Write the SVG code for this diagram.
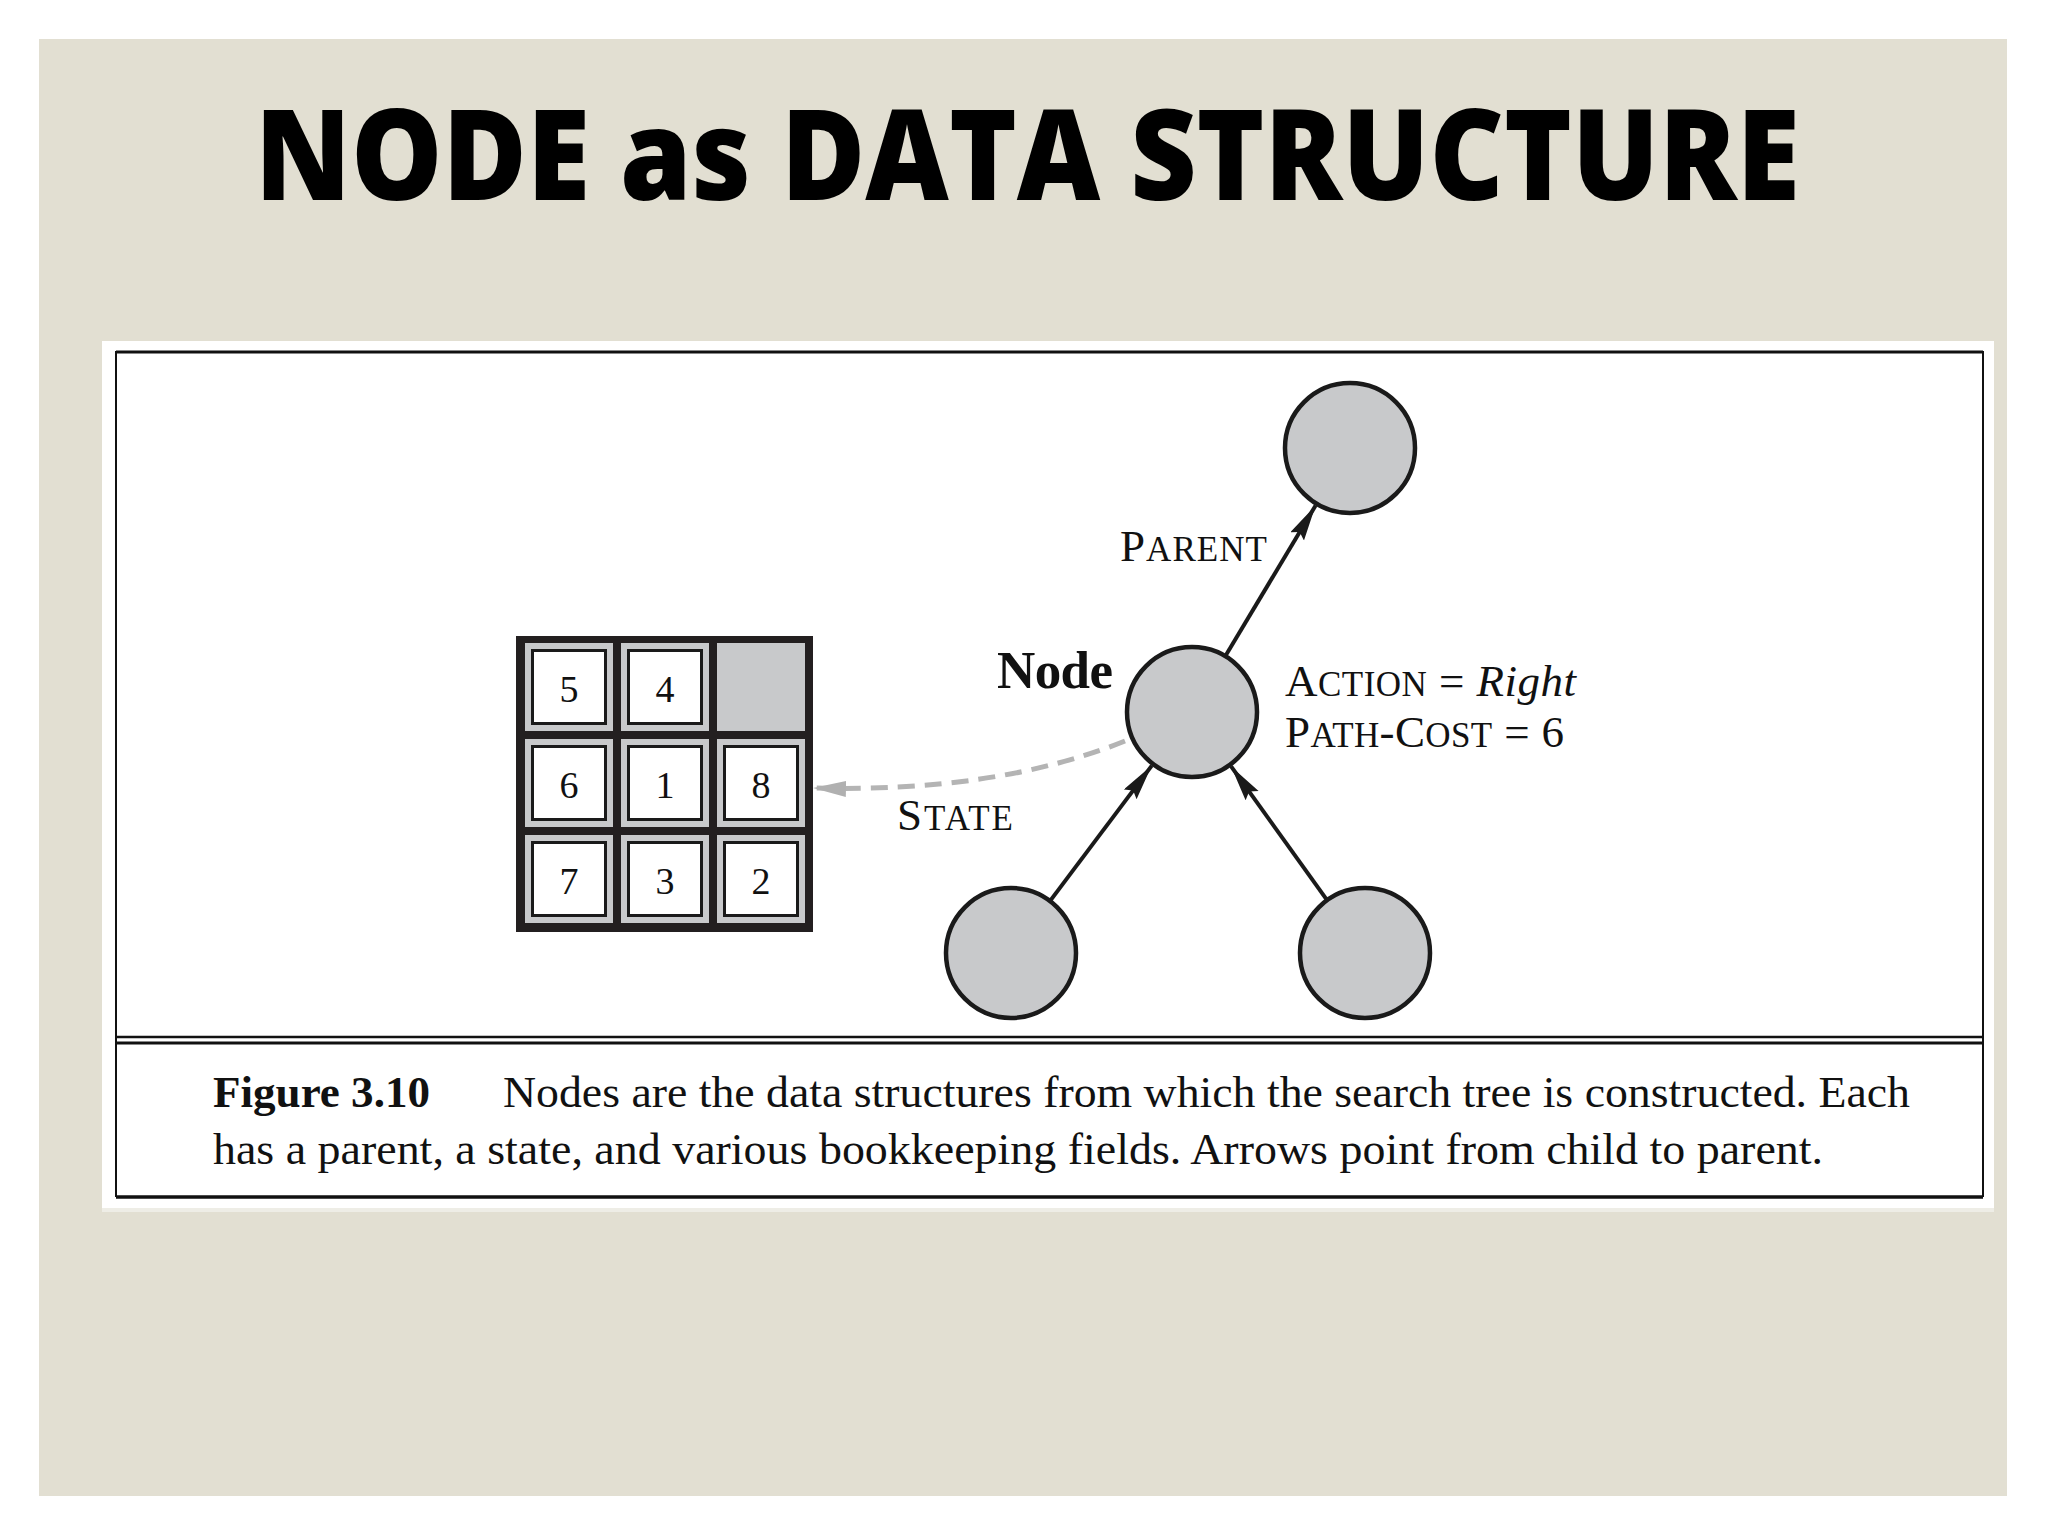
<svg xmlns="http://www.w3.org/2000/svg" width="2048" height="1536" viewBox="0 0 2048 1536">
  <style>
    .serif { font-family: "Liberation Serif", "Times New Roman", serif; fill: #111; }
    .cap { font-size: 45px; }
    .sc { font-size: 35px; }
    .digit { font-family: "Liberation Serif", "Times New Roman", serif; font-size: 38px; fill: #111; text-anchor: middle; }
    .node { fill: #c8c9cb; stroke: #1a1a1a; stroke-width: 4.5; }
    .cell { fill: #c8c9cb; }
    .tile { fill: #ffffff; stroke: #1a1a1a; stroke-width: 3; }
    .edge { fill: none; stroke: #1a1a1a; stroke-width: 4; }
    .dash { fill: none; stroke: #b4b4b4; stroke-width: 5; stroke-dasharray: 17 10; }
  </style>
  <defs>
    <marker id="arrowBlack" markerUnits="userSpaceOnUse" markerWidth="38" markerHeight="18" refX="36" refY="8" orient="auto">
      <path d="M0,0 L36,8 L0,16 L5,8 z" fill="#1a1a1a"/>
    </marker>
    <marker id="arrowGray" markerUnits="userSpaceOnUse" markerWidth="34" markerHeight="16" refX="33" refY="8" orient="auto">
      <path d="M0,0 L33,8 L0,16 z" fill="#b0b0b0"/>
    </marker>
  </defs>

  <!-- page -->
  <rect x="0" y="0" width="2048" height="1536" fill="#ffffff"/>
  <rect x="39" y="39" width="1968" height="1457" fill="#e2dfd2"/>
  <text x="255" y="200" font-family="'Open Sans', 'Noto Sans', sans-serif" font-weight="800" font-size="126" fill="#000" textLength="1545" lengthAdjust="spacingAndGlyphs">NODE as DATA STRUCTURE</text>

  <!-- figure panel -->
  <rect x="102" y="341" width="1892" height="871" fill="#ffffff"/>
  <rect x="102" y="1208" width="1892" height="4" fill="#eeede6"/>
  <g id="frame" fill="none" stroke="#111">
    <line x1="116" y1="352" x2="1983" y2="352" stroke-width="3"/>
    <line x1="116" y1="351" x2="116" y2="1197" stroke-width="2"/>
    <line x1="1983" y1="351" x2="1983" y2="1197" stroke-width="2"/>
    <line x1="116" y1="1037" x2="1983" y2="1037" stroke-width="2.5"/>
    <line x1="116" y1="1043" x2="1983" y2="1043" stroke-width="3"/>
    <line x1="116" y1="1197" x2="1983" y2="1197" stroke-width="3.5"/>
  </g>

  <!-- 8-puzzle state -->
  <g id="state-puzzle">
    <rect x="516" y="636" width="297" height="296" fill="#231f20"/>
    <rect class="cell" x="525" y="643" width="88" height="88"/>
    <rect class="cell" x="621" y="643" width="88" height="88"/>
    <rect class="cell" x="717" y="643" width="88" height="88"/>
    <rect class="cell" x="525" y="739" width="88" height="88"/>
    <rect class="cell" x="621" y="739" width="88" height="88"/>
    <rect class="cell" x="717" y="739" width="88" height="88"/>
    <rect class="cell" x="525" y="835" width="88" height="88"/>
    <rect class="cell" x="621" y="835" width="88" height="88"/>
    <rect class="cell" x="717" y="835" width="88" height="88"/>
    <rect class="tile" x="532.5" y="650.5" width="73" height="73"/>
    <rect class="tile" x="628.5" y="650.5" width="73" height="73"/>
    <rect class="tile" x="532.5" y="746.5" width="73" height="73"/>
    <rect class="tile" x="628.5" y="746.5" width="73" height="73"/>
    <rect class="tile" x="724.5" y="746.5" width="73" height="73"/>
    <rect class="tile" x="532.5" y="842.5" width="73" height="73"/>
    <rect class="tile" x="628.5" y="842.5" width="73" height="73"/>
    <rect class="tile" x="724.5" y="842.5" width="73" height="73"/>
    <text class="digit" x="569" y="702">5</text>
    <text class="digit" x="665" y="702">4</text>
    <text class="digit" x="569" y="798">6</text>
    <text class="digit" x="665" y="798">1</text>
    <text class="digit" x="761" y="798">8</text>
    <text class="digit" x="569" y="894">7</text>
    <text class="digit" x="665" y="894">3</text>
    <text class="digit" x="761" y="894">2</text>
  </g>

  <!-- connectors -->
  <g id="connectors">
    <path class="dash" d="M1125,741 Q995,793 813,788" marker-end="url(#arrowGray)"/>
    <line class="edge" x1="1226" y1="655" x2="1315.6" y2="505.5" marker-end="url(#arrowBlack)"/>
    <line class="edge" x1="1048.8" y1="902.6" x2="1151.8" y2="765.6" marker-end="url(#arrowBlack)"/>
    <line class="edge" x1="1328.3" y1="901.8" x2="1231.1" y2="766.4" marker-end="url(#arrowBlack)"/>
  </g>

  <!-- nodes -->
  <g id="node-parent"><circle class="node" cx="1350" cy="448" r="65"/></g>
  <g id="node-current"><circle class="node" cx="1192" cy="712" r="65"/></g>
  <g id="node-child-left"><circle class="node" cx="1011" cy="953" r="65"/></g>
  <g id="node-child-right"><circle class="node" cx="1365" cy="953" r="65"/></g>

  <!-- labels -->
  <g id="labels">
    <text class="serif" x="1120" y="561" textLength="147"><tspan class="cap">P</tspan><tspan class="sc">ARENT</tspan></text>
    <text class="serif" x="997" y="688" font-size="53" font-weight="bold" textLength="116">Node</text>
    <text class="serif" x="1285" y="696" textLength="291"><tspan class="cap">A</tspan><tspan class="sc">CTION</tspan><tspan class="cap"> = </tspan><tspan class="cap" font-style="italic">Right</tspan></text>
    <text class="serif" x="1285" y="747" textLength="279"><tspan class="cap">P</tspan><tspan class="sc">ATH</tspan><tspan class="cap">-C</tspan><tspan class="sc">OST</tspan><tspan class="cap"> = 6</tspan></text>
    <text class="serif" x="897" y="830" textLength="116"><tspan class="cap">S</tspan><tspan class="sc">TATE</tspan></text>
  </g>

  <!-- caption -->
  <g id="caption">
    <text class="serif" x="213" y="1107" font-size="45" font-weight="bold" textLength="217" lengthAdjust="spacingAndGlyphs">Figure 3.10</text>
    <text class="serif" x="503" y="1107" font-size="45" textLength="1407" lengthAdjust="spacingAndGlyphs">Nodes are the data structures from which the search tree is constructed. Each</text>
    <text class="serif" x="213" y="1164" font-size="45" textLength="1610" lengthAdjust="spacingAndGlyphs">has a parent, a state, and various bookkeeping fields. Arrows point from child to parent.</text>
  </g>
</svg>
